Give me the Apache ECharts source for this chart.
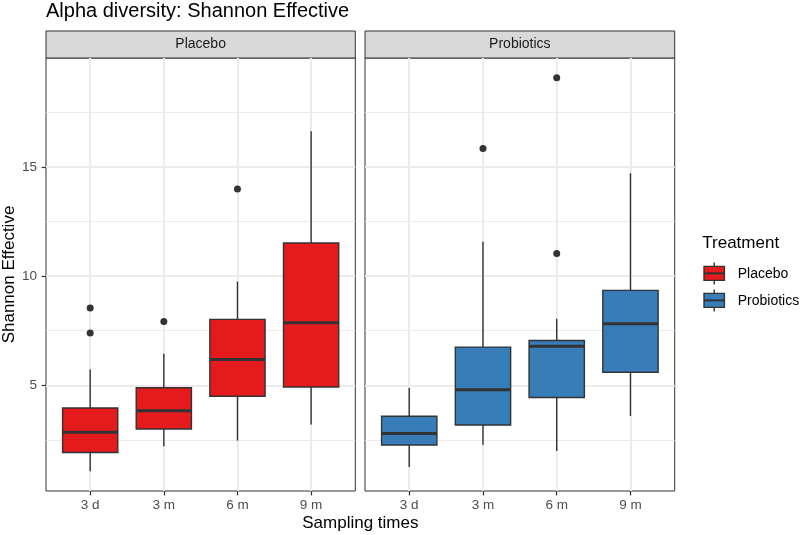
<!DOCTYPE html>
<html><head><meta charset="utf-8">
<script src="https://cdn.jsdelivr.net/npm/echarts@6/dist/echarts.min.js"></script>
<style>html,body{margin:0;padding:0;background:#fff}#c{width:800px;height:535px}</style>
</head><body><div id="c"></div>
<script>
// ---------- data ----------
const categories = ['3 d', '3 m', '6 m', '9 m'];
const groups = ['Placebo', 'Probiotics'];
// each row: [lower whisker, Q1, median, Q3, upper whisker]
const placeboBox = [
  [1.06, 1.92, 2.85, 3.96, 5.72],
  [2.21, 3.00, 3.84, 4.89, 6.45],
  [2.47, 4.50, 6.18, 8.02, 9.75],
  [3.20, 4.92, 7.87, 11.52, 16.64]
];
const placeboOutliers = [[0, 8.54], [0, 7.40], [1, 7.92], [2, 13.99]];
const probioticsBox = [
  [1.26, 2.27, 2.79, 3.58, 4.89],
  [2.28, 3.18, 4.80, 6.75, 11.58],
  [1.99, 4.44, 6.79, 7.05, 8.05],
  [3.59, 5.60, 7.82, 9.35, 14.71]
];
const probioticsOutliers = [[1, 15.85], [2, 19.09], [2, 11.04]];
const yTicks = [5, 10, 15];
const yMinorTicks = [2.5, 7.5, 12.5, 17.5];
const xTicks = [0, 1, 2, 3];

// ---------- styling / layout ----------
const colors = ['#E41A1C', '#377EB8'];
const boxSets = [placeboBox, probioticsBox];
const outlierSets = [placeboOutliers, probioticsOutliers];
const panels = [{left: 46, right: 355.3}, {left: 365, right: 674.7}];
const pTop = 58, pBottom = 491;
const yMin = 0.16, yMax = 19.99;
const dark = '#333333';
const tickTxt = '#4D4D4D';
const fontFam = '"Liberation Sans", Arial, sans-serif';
const lw = 1.4;

const chart = echarts.init(document.getElementById('c'), null, {renderer: 'canvas'});

const grid = [], xAxis = [], yAxis = [], series = [], graphic = [];

panels.forEach((p, k) => {
  const w = p.right - p.left;
  grid.push({left: p.left, top: pTop, width: w, height: pBottom - pTop, show: true,
    backgroundColor: '#ffffff', borderColor: dark, borderWidth: 1, containLabel: false});
  xAxis.push({type: 'value', gridIndex: k, min: -0.6, max: 3.6, position: 'bottom',
    axisLine: {show: false, onZero: false},
    axisTick: {show: true, customValues: xTicks, length: 4.4, lineStyle: {color: dark, width: 1.2}},
    axisLabel: {show: true, customValues: xTicks, formatter: v => categories[Math.round(v)],
      color: tickTxt, fontSize: 13.5, fontFamily: fontFam, margin: 7},
    splitLine: {show: true, lineStyle: {color: '#EBEBEB', width: 2}}
  });
  // major y
  yAxis.push({type: 'value', gridIndex: k, min: yMin, max: yMax, position: 'left',
    axisLine: {show: false, onZero: false},
    axisTick: {show: k === 0, customValues: yTicks, length: 4.4, lineStyle: {color: dark, width: 1.2}},
    axisLabel: {show: k === 0, customValues: yTicks, color: tickTxt, fontSize: 13.5, fontFamily: fontFam, margin: 9},
    splitLine: {show: true, lineStyle: {color: '#EBEBEB', width: 2}}
  });
  // minor y
  yAxis.push({type: 'value', gridIndex: k, min: yMin, max: yMax, position: 'left',
    axisLine: {show: false, onZero: false},
    axisTick: {show: false, customValues: yMinorTicks},
    axisLabel: {show: false, customValues: yMinorTicks},
    splitLine: {show: true, lineStyle: {color: '#EBEBEB', width: 1}}
  });

  const color = colors[k];
  series.push({
    type: 'custom', name: groups[k], xAxisIndex: k, yAxisIndex: 2 * k,
    data: boxSets[k].map((b, i) => [i].concat(b)),
    encode: {x: 0, y: [1, 2, 3, 4, 5]},
    silent: true,
    renderItem: function (params, api) {
      const i = api.value(0);
      const lo = api.coord([i, api.value(1)]);
      const q1 = api.coord([i, api.value(2)]);
      const md = api.coord([i, api.value(3)]);
      const q3 = api.coord([i, api.value(4)]);
      const hi = api.coord([i, api.value(5)]);
      const bw = api.size([1, 0])[0] * 0.75;
      const x = lo[0];
      return {type: 'group', children: [
        {type: 'line', shape: {x1: x, y1: hi[1], x2: x, y2: q3[1]}, style: {stroke: dark, lineWidth: lw}},
        {type: 'line', shape: {x1: x, y1: q1[1], x2: x, y2: lo[1]}, style: {stroke: dark, lineWidth: lw}},
        {type: 'rect', shape: {x: x - bw / 2, y: q3[1], width: bw, height: q1[1] - q3[1]},
          style: {fill: color, stroke: dark, lineWidth: lw}},
        {type: 'line', shape: {x1: x - bw / 2, y1: md[1], x2: x + bw / 2, y2: md[1]},
          style: {stroke: dark, lineWidth: 3}}
      ]};
    }
  });
  series.push({
    type: 'scatter', xAxisIndex: k, yAxisIndex: 2 * k, silent: true,
    symbol: 'circle', symbolSize: 7, itemStyle: {color: dark, opacity: 1},
    data: outlierSets[k]
  });

  // strip
  graphic.push({type: 'rect', silent: true, shape: {x: p.left, y: 31, width: w, height: pTop - 31},
    style: {fill: '#D9D9D9', stroke: dark, lineWidth: 1}});
  graphic.push({type: 'text', silent: true, x: p.left + w / 2, y: 44.6,
    style: {text: groups[k], fill: '#1A1A1A', font: '14px ' + fontFam, align: 'center', verticalAlign: 'middle'}});
});

// title and axis titles
graphic.push({type: 'text', x: 46, y: 11.4,
  style: {text: 'Alpha diversity: Shannon Effective', fill: '#000', font: '20px ' + fontFam, verticalAlign: 'middle'}});
graphic.push({type: 'text', x: (panels[0].left + panels[1].right) / 2, y: 523,
  style: {text: 'Sampling times', fill: '#000', font: '17px ' + fontFam, align: 'center', verticalAlign: 'middle'}});
graphic.push({type: 'text', x: 9, y: (pTop + pBottom) / 2, rotation: Math.PI / 2,
  style: {text: 'Shannon Effective', fill: '#000', font: '17px ' + fontFam, align: 'center', verticalAlign: 'middle'}});

// legend
graphic.push({type: 'text', x: 702.3, y: 243.3,
  style: {text: 'Treatment', fill: '#000', font: '17px ' + fontFam, verticalAlign: 'middle'}});
groups.forEach((g, k) => {
  const cy = 273.4 + k * 27;
  const cx = 714.2;
  graphic.push({type: 'line', shape: {x1: cx, y1: cy - 11, x2: cx, y2: cy + 11}, style: {stroke: dark, lineWidth: lw}});
  graphic.push({type: 'rect', shape: {x: cx - 10.2, y: cy - 7, width: 20.4, height: 14},
    style: {fill: colors[k], stroke: dark, lineWidth: lw}});
  graphic.push({type: 'line', shape: {x1: cx - 10.2, y1: cy, x2: cx + 10.2, y2: cy}, style: {stroke: dark, lineWidth: 2}});
  graphic.push({type: 'text', x: 737.7, y: cy + 0.3,
    style: {text: g, fill: '#000', font: '14px ' + fontFam, verticalAlign: 'middle'}});
});

chart.setOption({
  animation: false,
  backgroundColor: '#ffffff',
  grid, xAxis, yAxis, series, graphic
});
</script>
</body></html>
